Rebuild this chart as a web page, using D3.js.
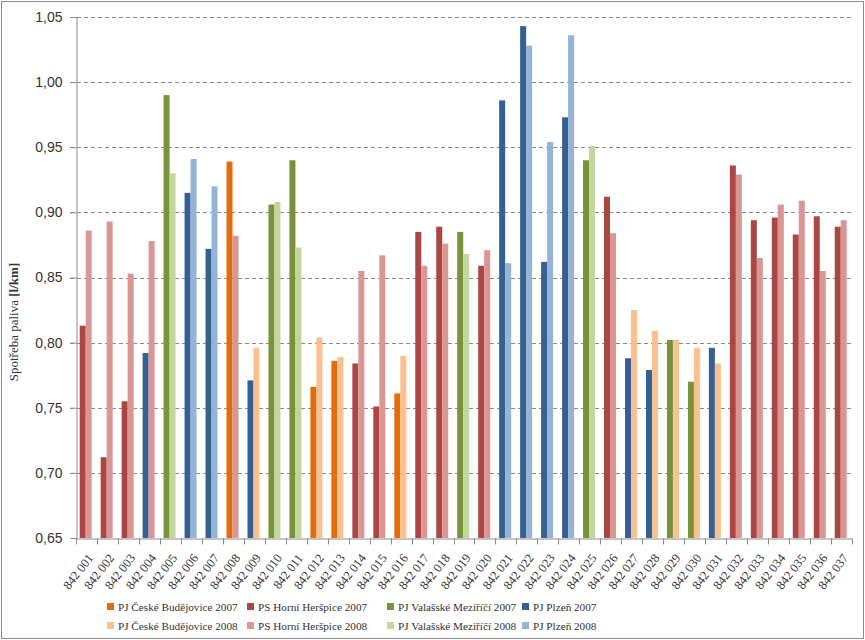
<!DOCTYPE html>
<html>
<head>
<meta charset="utf-8">
<script src="https://cdn.jsdelivr.net/npm/d3@7"></script>
<style>
  html, body { margin: 0; padding: 0; background: #fff; }
  svg { display: block; }
</style>
</head>
<body>
<svg id="chart" width="865" height="640"></svg>
<script>
// ---- DATA ----
const categories = ["842 001","842 002","842 003","842 004","842 005","842 006","842 007","842 008","842 009","842 010",
  "842 011","842 012","842 013","842 014","842 015","842 016","842 017","842 018","842 019","842 020",
  "842 021","842 022","842 023","842 024","842 025","842 026","842 027","842 028","842 029","842 030",
  "842 031","842 032","842 033","842 034","842 035","842 036","842 037"];

// unit of each bar: CB = PJ České Budějovice, HH = PS Horní Heršpice, VM = PJ Valašské Meziříčí, PL = PJ Plzeň
const unit2007 = ["HH","HH","HH","PL","VM","PL","PL","CB","PL","VM","VM","CB","CB","HH","HH","CB","HH","HH","VM","HH",
  "PL","PL","PL","PL","VM","HH","PL","PL","VM","VM","PL","HH","HH","HH","HH","HH","HH"];
const unit2008 = ["HH","HH","HH","HH","VM","PL","PL","HH","CB","VM","VM","CB","CB","HH","HH","CB","HH","HH","VM","HH",
  "PL","PL","PL","PL","VM","HH","CB","CB","CB","CB","CB","HH","HH","HH","HH","HH","HH"];

const values2007 = [0.813,0.712,0.755,0.792,0.990,0.915,0.872,0.939,0.771,0.906,0.940,0.766,0.786,0.784,0.751,0.761,0.885,0.889,0.885,0.859,
  0.986,1.043,0.862,0.973,0.940,0.912,0.788,0.779,0.802,0.770,0.796,0.936,0.894,0.896,0.883,0.897,0.889];
const values2008 = [0.886,0.893,0.853,0.878,0.930,0.941,0.920,0.882,0.796,0.908,0.873,0.804,0.789,0.855,0.867,0.790,0.859,0.876,0.868,0.871,
  0.861,1.028,0.954,1.036,0.951,0.884,0.825,0.809,0.802,0.796,0.784,0.929,0.865,0.906,0.909,0.855,0.894];

const units = ["CB","HH","VM","PL"];
const unitNames = ["PJ České Budějovice","PS Horní Heršpice","PJ Valašské Meziříčí","PJ Plzeň"];
const years = ["2007","2008"];
const colors2007 = ["#E46C0A","#AA4643","#77933C","#376092"];
const colors2008 = ["#FAC090","#D99694","#C3D69B","#95B3D7"];

const yTicks = [0.65,0.70,0.75,0.80,0.85,0.90,0.95,1.00,1.05];
const yTitle = "Spotřeba paliva ";
const yUnit = "[l/km]";

// ---- DRAW ----
const svg = d3.select("#chart");
const margin = {left: 76, right: 13, top: 17, bottom: 102};
const W = 865, H = 640;
const serif = "'Liberation Serif', 'Times New Roman', serif";

// outer border
svg.append("rect").attr("x",1.5).attr("y",1.5).attr("width",W-3).attr("height",H-3)
  .attr("fill","#fff").attr("stroke","#8c8c8c").attr("stroke-width",1);

const x = d3.scaleBand().domain(categories).range([margin.left, W - margin.right]).padding(0);
const xIn = d3.scaleBand().domain(years).range([3.7, 15.7]);
const y = d3.scaleLinear().domain([0.65, 1.05]).range([H - margin.bottom, margin.top]);

const cz = d3.formatLocale({decimal: ",", thousands: " ", grouping: [3], currency: ["", " Kč"]});
const fmt = cz.format(".2f");

// gridlines
svg.append("g").selectAll("line").data(yTicks.filter(t => t > 0.65)).join("line")
  .attr("x1", margin.left - 6).attr("x2", W - margin.right)
  .attr("y1", d => Math.round(y(d)) + 0.5).attr("y2", d => Math.round(y(d)) + 0.5)
  .attr("stroke", "#8a8a8a").attr("stroke-width", 1).attr("stroke-dasharray", "4,3");

// y axis
const yAxis = d3.axisLeft(y).tickValues(yTicks).tickFormat(fmt).tickSize(6).tickPadding(8);
const gy = svg.append("g").attr("transform", `translate(${margin.left + 0.5},0)`).call(yAxis);
gy.select(".domain").attr("stroke", "#8a8a8a");
gy.selectAll(".tick line").attr("stroke", "#8a8a8a");
gy.selectAll(".tick text").attr("font-family", "'Liberation Sans', Arial, sans-serif")
  .attr("font-size", 14).attr("fill", "#333");

// bars
const bars = [];
categories.forEach((c, i) => {
  bars.push({cat: c, year: "2007", v: values2007[i], color: colors2007[units.indexOf(unit2007[i])]});
  bars.push({cat: c, year: "2008", v: values2008[i], color: colors2008[units.indexOf(unit2008[i])]});
});
svg.append("g").selectAll("rect").data(bars).join("rect")
  .attr("x", d => x(d.cat) + xIn(d.year))
  .attr("width", xIn.bandwidth())
  .attr("y", d => y(d.v))
  .attr("height", d => y(0.65) - y(d.v))
  .attr("fill", d => d.color);

// x axis
const xAxis = d3.axisBottom(x).tickSize(0).tickFormat(d => d);
const gx = svg.append("g").attr("transform", `translate(0,${Math.round(y(0.65)) + 0.5})`).call(xAxis);
gx.select(".domain").attr("stroke", "#8a8a8a");
// tick marks at band boundaries
gx.append("g").selectAll("line").data(categories.concat(["__end"])).join("line")
  .attr("x1", (d, i) => Math.round(margin.left + i * x.step()) + 0.5)
  .attr("x2", (d, i) => Math.round(margin.left + i * x.step()) + 0.5)
  .attr("y1", 0).attr("y2", 6).attr("stroke", "#8a8a8a");
gx.selectAll(".tick text")
  .attr("font-family", serif)
  .attr("font-size", 12.5).attr("fill", "#333")
  .attr("text-anchor", "end")
  .attr("transform", "translate(4,17) rotate(-52)")
  .attr("dy", "0.35em").attr("y", 0).attr("x", 0);

// y title
const yt = svg.append("text")
  .attr("transform", `translate(18,${322}) rotate(-90)`)
  .attr("text-anchor", "middle")
  .attr("font-family", serif)
  .attr("font-size", 13).attr("fill", "#333");
yt.append("tspan").text(yTitle);
yt.append("tspan").attr("font-weight", "bold").text(yUnit);

// legend
const legendItems = [];
years.forEach((yr, r) => {
  units.forEach((u, k) => {
    legendItems.push({row: r, col: k, label: unitNames[k] + " " + yr, color: (r === 0 ? colors2007 : colors2008)[k]});
  });
});
const colX = [107, 247, 387, 522];
const rowY = [607, 626];
const lg = svg.append("g").selectAll("g").data(legendItems).join("g")
  .attr("transform", d => `translate(${colX[d.col]},${rowY[d.row]})`);
lg.append("rect").attr("x", 0).attr("y", -4).attr("width", 7).attr("height", 7).attr("fill", d => d.color);
lg.append("text").attr("x", 11).attr("y", 0).attr("dy", "0.35em")
  .attr("font-family", serif)
  .attr("font-size", 11.2).attr("fill", "#333")
  .text(d => d.label);
</script>
</body>
</html>
